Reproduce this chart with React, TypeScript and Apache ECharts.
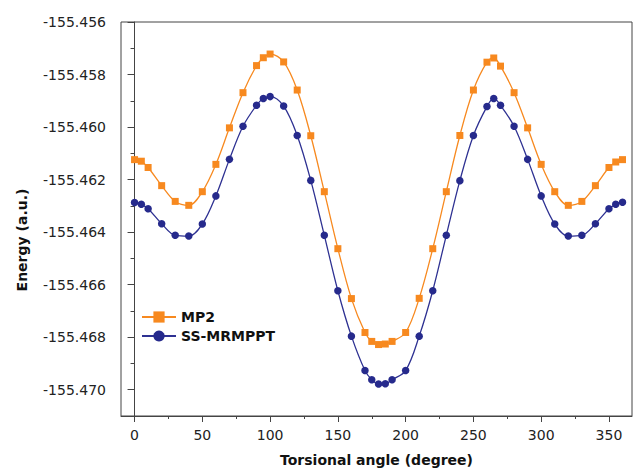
import React, { useEffect, useRef } from "react";
import * as echarts from "echarts";

const angles = [0, 5, 10, 20, 30, 40, 50, 60, 70, 80, 90, 95, 100, 110, 120, 130, 140, 150, 160, 170, 175, 180, 185, 190, 200, 210, 220, 230, 240, 250, 260, 265, 270, 280, 290, 300, 310, 320, 330, 340, 350, 355, 360];

const mp2 = [-155.46124, -155.4613, -155.46154, -155.46223, -155.46283, -155.46298, -155.46246, -155.46142, -155.46003, -155.45869, -155.45766, -155.45736, -155.45722, -155.45752, -155.45859, -155.46033, -155.46246, -155.46463, -155.46653, -155.46782, -155.46816, -155.46828, -155.46826, -155.46816, -155.46782, -155.46652, -155.46463, -155.46246, -155.46032, -155.45859, -155.45753, -155.45737, -155.45768, -155.45869, -155.46003, -155.46142, -155.46246, -155.46298, -155.46283, -155.46223, -155.46154, -155.46133, -155.46124];

const ssmrmppt = [-155.46287, -155.46294, -155.46311, -155.46368, -155.46412, -155.46415, -155.46369, -155.46262, -155.46123, -155.45997, -155.45917, -155.45891, -155.45884, -155.4592, -155.46032, -155.46203, -155.46412, -155.46623, -155.46796, -155.46927, -155.46962, -155.46978, -155.46977, -155.46962, -155.46927, -155.46796, -155.46623, -155.46412, -155.46204, -155.46032, -155.45922, -155.45891, -155.45917, -155.45997, -155.46123, -155.46262, -155.46369, -155.46415, -155.46412, -155.46368, -155.46311, -155.46294, -155.46286];

const xMajorTicks = [0, 50, 100, 150, 200, 250, 300, 350];
const xMinorTicks = [25, 75, 125, 175, 225, 275, 325];
const yMajorTicks = [-155.47, -155.468, -155.466, -155.464, -155.462, -155.46, -155.458, -155.456];
const yMinorTicks = [-155.469, -155.467, -155.465, -155.463, -155.461, -155.459, -155.457];

const FONT = "DejaVu Sans";
const AXIS_COLOR = "#444";

export default function App() {
  const ref = useRef<HTMLDivElement>(null);
  useEffect(() => {
    if (!ref.current) return;
    const chart = echarts.init(ref.current, null, { renderer: "svg" });
    const xBase = { type: "value", min: -10, max: 367 };
    const yBase = { type: "value", min: -155.471, max: -155.456, scale: true };
    chart.setOption({
      animation: false,
      backgroundColor: "#fff",
      grid: {
        left: 121, right: 2, top: 22, bottom: 52,
        show: true, borderColor: AXIS_COLOR, borderWidth: 1,
      },
      legend: {
        orient: "vertical",
        left: 136, top: 305,
        itemWidth: 34, itemHeight: 14, itemGap: 5,
        textStyle: { fontFamily: FONT, fontWeight: "bold", fontSize: 14, color: "#111" },
        data: ["MP2", "SS-MRMPPT"],
      },
      xAxis: [
        {
          ...xBase,
          position: "bottom",
          splitLine: { show: false },
          axisLine: { show: true, lineStyle: { color: AXIS_COLOR, width: 1 } },
          axisTick: { show: true, inside: false, length: 6, customValues: xMajorTicks, lineStyle: { color: AXIS_COLOR } },
          axisLabel: {
            customValues: xMajorTicks, margin: 12,
            fontFamily: FONT, fontSize: 14, color: "#222",
          },
          name: "Torsional angle (degree)",
          nameLocation: "middle",
          nameGap: 37,
          nameTextStyle: { fontFamily: FONT, fontWeight: "bold", fontSize: 14, color: "#111" },
        },
        {
          ...xBase,
          position: "bottom",
          splitLine: { show: false },
          axisLine: { show: false },
          axisTick: { show: true, inside: false, length: 3, customValues: xMinorTicks, lineStyle: { color: AXIS_COLOR } },
          axisLabel: { show: false },
        },
      ],
      yAxis: [
        {
          ...yBase,
          position: "left",
          splitLine: { show: false },
          axisLine: { show: true, lineStyle: { color: AXIS_COLOR, width: 1 } },
          axisTick: { show: true, inside: false, length: 7, customValues: yMajorTicks, lineStyle: { color: AXIS_COLOR } },
          axisLabel: {
            customValues: yMajorTicks, margin: 15,
            fontFamily: FONT, fontSize: 14, color: "#222",
            formatter: (v: number) => v.toFixed(3),
          },
        },
        {
          ...yBase,
          position: "left",
          splitLine: { show: false },
          axisLine: { show: false },
          axisTick: { show: true, inside: false, length: 4, customValues: yMinorTicks, lineStyle: { color: AXIS_COLOR } },
          axisLabel: { show: false },
        },
      ],
      graphic: [
        {
          type: "text",
          x: 21.5, y: 240,
          rotation: Math.PI / 2,
          style: {
            text: "Energy (a.u.)",
            fontFamily: FONT, fontWeight: "bold", fontSize: 14, fill: "#111",
            textAlign: "center", textVerticalAlign: "middle",
          },
        },
      ],
      series: [
        {
          name: "MP2",
          type: "line",
          xAxisIndex: 0, yAxisIndex: 0,
          data: angles.map((a, i) => [a, mp2[i]]),
          smooth: 0.35,
          symbol: "rect",
          symbolSize: 7,
          lineStyle: { color: "#F7891F", width: 1.3 },
          itemStyle: { color: "#F7891F" },
        },
        {
          name: "SS-MRMPPT",
          type: "line",
          xAxisIndex: 0, yAxisIndex: 0,
          data: angles.map((a, i) => [a, ssmrmppt[i]]),
          smooth: 0.35,
          symbol: "circle",
          symbolSize: 7.5,
          lineStyle: { color: "#2E3192", width: 1.3 },
          itemStyle: { color: "#262A8C" },
        },
      ],
    });
    return () => chart.dispose();
  }, []);
  return (
    <div
      ref={ref}
      style={{ position: "fixed", left: 0, top: 0, width: 634, height: 472 }}
    />
  );
}
